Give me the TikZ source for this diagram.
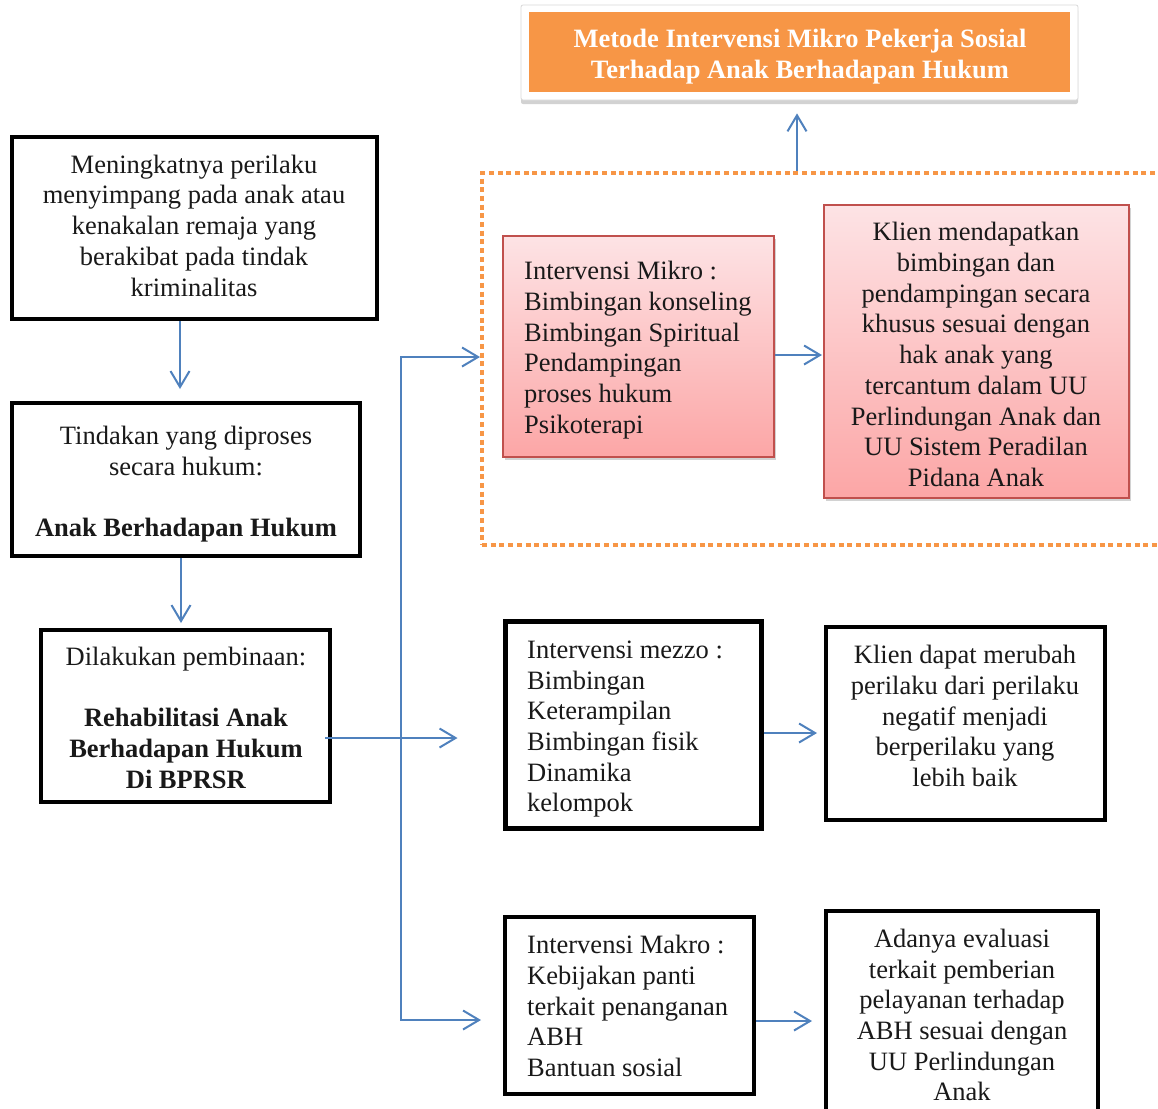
\documentclass[tikz,border=0pt]{standalone}
\usepackage{fontspec}
\setmainfont{Liberation Serif}
\usetikzlibrary{arrows.meta,shadows,calc}
\definecolor{orng}{HTML}{F79646}
\definecolor{blu}{HTML}{4F81BD}
\definecolor{rd}{HTML}{C0504D}
\definecolor{pinktop}{HTML}{FDE3E5}
\definecolor{pinkbot}{HTML}{FCA6A6}
\tikzset{
 x=1pt,y=-1pt,
 blk/.style={draw=black, line width=4pt, fill=white, inner sep=0pt},
 redbox/.style={draw=rd, line width=2pt, top color=pinktop, bottom color=pinkbot, inner sep=0pt,
   drop shadow={shadow xshift=2pt,shadow yshift=-3pt,opacity=0.35}},
 txt/.style={font=\fontsize{26.5}{30.7}\selectfont, inner sep=0pt, align=center, text=black!90, yshift=-3.5pt},
 ltxt/.style={txt, align=left},
 arr/.style={draw=blu, line width=2pt, -{Straight Barb[length=16pt,width=19pt]}},
}
\begin{document}
\begin{tikzpicture}
\path[use as bounding box] (0,0) rectangle (1158,1108);
\clip (0,0) rectangle (1158,1108);
\fill[white] (0,0) rectangle (1158,1108);

% title
\node[draw=black!15, line width=0.8pt, fill=white, rounded corners=2pt, minimum width=557pt, minimum height=95pt, inner sep=0pt,
  drop shadow={shadow xshift=0pt,shadow yshift=-4pt,opacity=0.35}] (titleout) at (799.5,52.5) {};
\node[fill=orng, minimum width=541pt, minimum height=80pt, inner sep=0pt] (titlein) at (799.5,52) {};
\node[txt, text=white, font=\fontsize{26.5}{31}\selectfont\bfseries] (titletxt) at (800,53.5)
  {\strut Metode Intervensi Mikro Pekerja Sosial\\ Terhadap Anak Berhadapan Hukum\strut};

% dashed frame
\node[draw=orng, line width=4pt, dash pattern=on 5pt off 3.7pt, minimum width=703pt, minimum height=372pt, inner sep=0pt] (frame) at (833.5,359) {};

% left column
\node[blk, minimum width=365pt, minimum height=182pt] (box1) at (194.5,228) {};
\node[txt] (box1t) at (194,225) {\strut Meningkatnya perilaku\\ menyimpang pada anak atau\\ kenakalan remaja yang\\ berakibat pada tindak\\ kriminalitas\strut};

\node[blk, minimum width=348pt, minimum height=153pt] (box2) at (186,479.5) {};
\node[txt] (box2t) at (186,481) {\strut Tindakan yang diproses\\ secara hukum:\\ \mbox{}\\ \textbf{Anak Berhadapan Hukum}\strut};

\node[blk, minimum width=289pt, minimum height=172pt] (box3) at (185.5,716) {};
\node[txt] (box3t) at (186,717) {\strut Dilakukan pembinaan:\\ \mbox{}\\ \textbf{Rehabilitasi Anak}\\ \textbf{Berhadapan Hukum}\\ \textbf{Di BPRSR}\strut};

% micro row
\node[redbox, minimum width=271pt, minimum height=221pt] (mikro) at (638.5,346.5) {};
\node[ltxt, anchor=west] (mikrot) at (524,347) {\strut Intervensi Mikro :\\ Bimbingan konseling\\ Bimbingan Spiritual\\ Pendampingan\\ proses hukum\\ Psikoterapi\strut};

\node[redbox, minimum width=305pt, minimum height=293pt] (klien1) at (976.5,351.5) {};
\node[txt] (klien1t) at (976,354) {\strut Klien mendapatkan\\ bimbingan dan\\ pendampingan secara\\ khusus sesuai dengan\\ hak anak yang\\ tercantum dalam UU\\ Perlindungan Anak dan\\ UU Sistem Peradilan\\ Pidana Anak\strut};

% mezzo row
\node[blk, line width=5pt, minimum width=256pt, minimum height=207pt] (mezzo) at (633,724.5) {};
\node[ltxt, anchor=west] (mezzot) at (527,725.5) {\strut Intervensi mezzo :\\ Bimbingan\\ Keterampilan\\ Bimbingan fisik\\ Dinamika\\ kelompok\strut};

\node[blk, minimum width=279pt, minimum height=193pt] (klien2) at (965.5,723.5) {};
\node[txt] (klien2t) at (965,715.5) {\strut Klien dapat merubah\\ perilaku dari perilaku\\ negatif menjadi\\ berperilaku yang\\ lebih baik\strut};

% makro row
\node[blk, minimum width=249pt, minimum height=177pt] (makro) at (629.5,1005.5) {};
\node[ltxt, anchor=west] (makrot) at (527,1005.5) {\strut Intervensi Makro :\\ Kebijakan panti\\ terkait penanganan\\ ABH\\ Bantuan sosial\strut};

\node[blk, minimum width=272pt, minimum height=219pt] (final) at (962,1020.5) {};
\node[txt] (finalt) at (962,1014.5) {\strut Adanya evaluasi\\ terkait pemberian\\ pelayanan terhadap\\ ABH sesuai dengan\\ UU Perlindungan\\ Anak\strut};

% connectors
\coordinate (a1) at ($(box1.south)+(-14.5,0)$);
\draw[arr, shorten >=12pt] (a1) -- (a1 |- box2.north);
\coordinate (a2) at ($(box2.south)+(-5,0)$);
\draw[arr, shorten >=5pt] (a2) -- (a2 |- box3.north);
\coordinate (bt) at (401,357);
\coordinate (bb) at (401,1020);
\draw[arr] (bb) -- (bt) -- (bt -| frame.west);
\draw[arr, shorten >=22pt] (bt) -- (bb) -- (bb -| makro.west);
\coordinate (a3) at ($(box3.east)+(-7,22)$);
\draw[arr, shorten >=45pt] (a3) -- (a3 -| mezzo.west);
\coordinate (a5) at ($(mikro.east)+(0,8.5)$);
\draw[arr, shorten >=1pt] (a5) -- (a5 -| klien1.west);
\coordinate (a6) at ($(mezzo.east)+(0,8.5)$);
\draw[arr, shorten >=7pt] (a6) -- (a6 -| klien2.west);
\coordinate (a7) at ($(makro.east)+(0,15.5)$);
\draw[arr, shorten >=12pt] (a7) -- (a7 -| final.west);
\coordinate (a8) at ($(titleout.south)+(-2.5,0)$);
\draw[arr, shorten >=13pt] (a8 |- frame.north) -- (a8);
\end{tikzpicture}
\end{document}
